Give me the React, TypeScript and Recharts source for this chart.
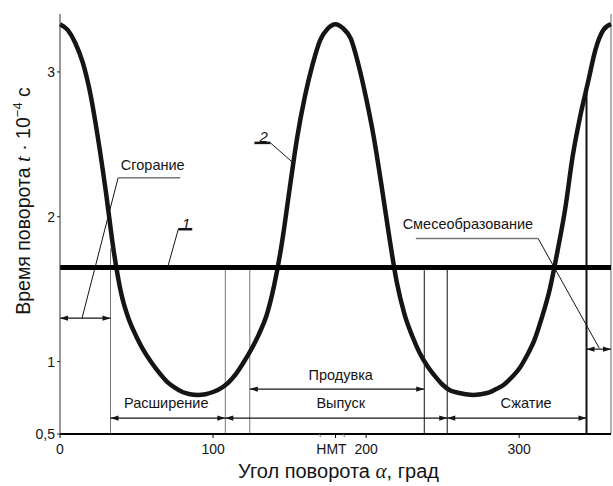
import React from "react";
import { LineChart, Line, XAxis, YAxis, ReferenceLine, ReferenceDot } from "recharts";

// угол поворота, град
const angles = [
  0, 5, 10, 15, 20, 25, 30, 35, 40, 45, 50, 55, 60, 65, 70, 75, 80, 85, 90,
  95, 100, 105, 110, 115, 120, 125, 130, 135, 140, 145, 150, 155, 160, 165, 170, 175, 180,
  185, 190, 195, 200, 205, 210, 215, 220, 225, 230, 235, 240, 245, 250, 255, 260, 265, 270,
  275, 280, 285, 290, 295, 300, 305, 310, 315, 320, 325, 330, 335, 340, 345, 350, 355, 360,
];

// время поворота (кривая 2), t·10^-4 c
const times = [
  3.33, 3.29, 3.2, 3.06, 2.84, 2.53, 2.17, 1.77, 1.47, 1.29, 1.17, 1.07, 0.99, 0.92, 0.86, 0.82, 0.79, 0.775, 0.77,
  0.775, 0.79, 0.815, 0.855, 0.915, 0.995, 1.085, 1.19, 1.32, 1.53, 1.82, 2.19, 2.55, 2.83, 3.05, 3.22, 3.3, 3.33,
  3.3, 3.23, 3.05, 2.82, 2.55, 2.22, 1.87, 1.55, 1.33, 1.18, 1.06, 0.97, 0.9, 0.84, 0.8, 0.785, 0.775, 0.77,
  0.775, 0.785, 0.81, 0.84, 0.89, 0.95, 1.04, 1.15, 1.31, 1.5, 1.76, 2.05, 2.42, 2.7, 2.93, 3.16, 3.29, 3.33,
];

// кривая 1 — постоянный уровень
const level1 = 1.65;

const xTicks = [0, 100, 180, 200, 300];
const yTicks = [0.5, 1, 2, 3];

// границы фаз (угол) и верх вертикальной линии
const bounds = [33, 108, 124, 238, 253, 344];
const boundTops = [1.78, 1.65, 1.65, 1.65, 1.65, 2.87];

// стрелки фаз: от, до, уровень
const spanFrom = [0, 33, 108, 124, 253, 344];
const spanTo = [33, 108, 253, 238, 344, 360];
const spanLevel = [1.3, 0.61, 0.61, 0.81, 0.61, 1.086];

const phaseNames = ["Сгорание", "Расширение", "Выпуск", "Продувка", "Сжатие", "Смесеобразование"];
const phaseAt = [60.6, 69.4, 183.4, 183.4, 304.5, 266.5];
const phaseT = [2.36, 0.714, 0.714, 0.907, 0.714, 1.95];

// выноски: тонкая наклонная часть и горизонтальная полка
const leaderSlant = [
  [[14.4, 1.3], [38, 2.27]],
  [[352.3, 1.093], [312.4, 1.85]],
  [[70.7, 1.665], [77.3, 1.914]],
  [[152.6, 2.37], [137.5, 2.51]],
];
const leaderShelf = [
  [[38, 2.27], [78.6, 2.27]],
  [[312.4, 1.85], [232.5, 1.85]],
  [[77.3, 1.914], [86.4, 1.914]],
  [[137.5, 2.51], [127, 2.51]],
];
const curveNames = ["1", "2"];
const curveNameAt = [82.5, 133];
const curveNameT = [1.955, 2.555];

const data = angles.map((a, i) => ({ a, t: times[i] }));

const font = "'Liberation Sans', Arial, sans-serif";
const ink = "#151515";

const Arrow = (p: any) => {
  const { x1, y1, x2, y2 } = p;
  const h = 8;
  const w = 2.6;
  return (
    <g>
      <line x1={x1} y1={y1} x2={x2} y2={y2} stroke={ink} strokeWidth={1.2} />
      <polygon points={`${x1},${y1} ${x1 + h},${y1 - w} ${x1 + h},${y1 + w}`} fill={ink} />
      <polygon points={`${x2},${y2} ${x2 - h},${y2 - w} ${x2 - h},${y2 + w}`} fill={ink} />
    </g>
  );
};

const XTick = (p: any) => {
  const { x, y, payload } = p;
  const nmt = payload.value === 180;
  return (
    <g>
      {nmt && (
        <>
          <line x1={x - 16} y1={y - 9} x2={x - 15} y2={y - 6} stroke="#777" />
          <line x1={x + 8} y1={y - 9} x2={x + 9} y2={y - 6} stroke="#777" />
        </>
      )}
      <text x={nmt ? x - 4 : x} y={y} dy="0.8em" textAnchor="middle" fontSize={14} fill={ink} fontFamily={font}>
        {nmt ? "НМТ" : payload.value}
      </text>
    </g>
  );
};

const YLabel = () => (
  <text
    x={30}
    y={201}
    transform="rotate(-90, 30, 201)"
    textAnchor="middle"
    fontSize={19.5}
    fill={ink}
    fontFamily={font}
  >
    Время поворота{" "}
    <tspan fontStyle="italic" fontFamily="'Liberation Serif', serif" fontSize={21}>
      t
    </tspan>
    {" · 10"}
    <tspan dy={-8} fontSize={13}>
      −4
    </tspan>
    <tspan dy={8}> с</tspan>
  </text>
);

const XLabel = (p: any) => {
  const vb = p.viewBox;
  const cx = vb.x + vb.width / 2 + 3;
  return (
    <text x={cx} y={vb.y + 44} textAnchor="middle" fontSize={20} fill={ink} fontFamily={font}>
      Угол поворота{" "}
      <tspan fontFamily="'Liberation Serif', serif" fontStyle="italic" fontSize={21}>
        α
      </tspan>
      , град
    </text>
  );
};

export default function App() {
  return (
    <div style={{ position: "absolute", left: 0, top: 0, background: "#fff" }}>
      <LineChart
        width={613}
        height={486}
        data={data}
        margin={{ top: 14, right: 2, bottom: 22, left: 10 }}
        style={{ fontFamily: font }}
      >
        <XAxis
          dataKey="a"
          type="number"
          domain={[0, 360]}
          ticks={xTicks}
          interval={0}
          height={30}
          tickSize={4}
          tickMargin={5}
          axisLine={{ stroke: "#000", strokeWidth: 2 }}
          tickLine={{ stroke: "#000" }}
          tick={<XTick />}
          label={{ content: (p: any) => <XLabel {...p} /> }}
        />
        <YAxis
          type="number"
          domain={[0.5, 3.4]}
          ticks={yTicks}
          interval={0}
          width={50}
          tickSize={3}
          tickMargin={2}
          axisLine={{ stroke: "#333", strokeWidth: 1 }}
          tickLine={{ stroke: "#222" }}
          tick={{ fontSize: 14, fill: ink, fontFamily: font }}
          tickFormatter={(v: number) => String(v).replace(".", ",")}
          label={{ content: () => <YLabel /> }}
        />

        <ReferenceLine x={360} stroke="#999" strokeWidth={1.5} />

        {bounds.map((a, i) => (
          <ReferenceLine
            key={"b" + i}
            segment={[
              { x: a, y: 0.5 },
              { x: a, y: boundTops[i] },
            ]}
            stroke={i < 3 ? "#777" : "#111"}
            strokeWidth={i === 5 ? 2 : 1}
          />
        ))}

        {spanFrom.map((a, i) => (
          <ReferenceLine
            key={"s" + i}
            segment={[
              { x: a, y: spanLevel[i] },
              { x: spanTo[i], y: spanLevel[i] },
            ]}
            shape={(p: any) => <Arrow {...p} />}
          />
        ))}

        {leaderSlant.map((seg, i) => (
          <ReferenceLine
            key={"l" + i}
            segment={[
              { x: seg[0][0], y: seg[0][1] },
              { x: seg[1][0], y: seg[1][1] },
            ]}
            stroke={ink}
            strokeWidth={1}
          />
        ))}
        {leaderShelf.map((seg, i) => (
          <ReferenceLine
            key={"h" + i}
            segment={[
              { x: seg[0][0], y: seg[0][1] },
              { x: seg[1][0], y: seg[1][1] },
            ]}
            stroke={i < 2 ? "#777" : ink}
            strokeWidth={i < 2 ? 1.5 : 2.5}
          />
        ))}

        <Line
          type="monotone"
          dataKey="t"
          stroke={ink}
          strokeWidth={4.5}
          dot={false}
          activeDot={false}
          isAnimationActive={false}
        />

        <ReferenceLine y={level1} stroke="#000" strokeWidth={5} />

        {phaseNames.map((name, i) => (
          <ReferenceDot
            key={"p" + i}
            x={phaseAt[i]}
            y={phaseT[i]}
            r={0}
            fill="none"
            stroke="none"
            label={{ value: name, position: "center", fontSize: 14.5, fill: ink, fontFamily: font }}
          />
        ))}
        {curveNames.map((name, i) => (
          <ReferenceDot
            key={"c" + i}
            x={curveNameAt[i]}
            y={curveNameT[i]}
            r={0}
            fill="none"
            stroke="none"
            label={{ value: name, position: "center", fontSize: 15, fill: ink, fontStyle: "italic", fontFamily: font }}
          />
        ))}
      </LineChart>
    </div>
  );
}
